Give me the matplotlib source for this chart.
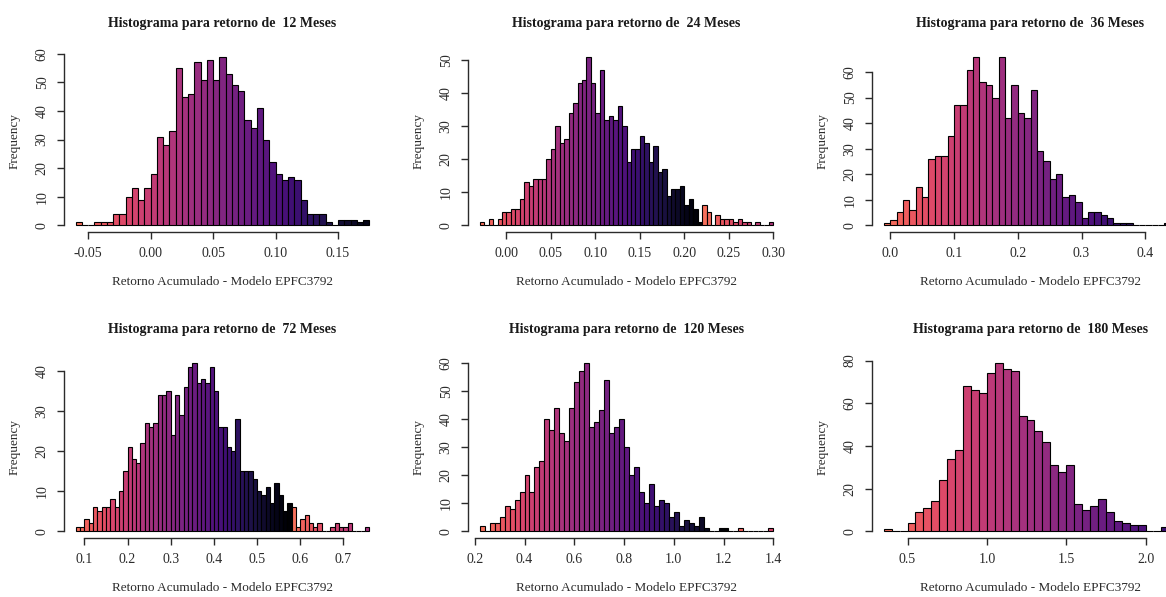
import numpy as np
import matplotlib
matplotlib.use("Agg")
import matplotlib.pyplot as plt

plt.rcParams['font.family'] = ['Liberation Serif', 'DejaVu Serif']

# horizon (months) of each panel
meses = [12, 24, 36, 72, 120, 180]

# histogram breaks: first break and bin width
break_start = [-0.06, -0.03, -0.01, 0.08, 0.22, 0.35]
break_width = [0.005, 0.005, 0.01, 0.01, 0.02, 0.05]

# counts
counts_12 = [1, 0, 0, 1, 1, 1, 4, 4, 10, 13, 9, 13, 18, 31, 28, 33, 55, 45, 46, 57,
             51, 58, 51, 59, 53, 49, 47, 37, 34, 41, 30, 22, 18, 16, 17, 16, 9, 4, 4, 4,
             1, 0, 2, 2, 2, 1, 2]
counts_24 = [1, 0, 2, 0, 2, 4, 4, 5, 5, 8, 13, 12, 14, 14, 14, 20, 23, 30, 25, 26,
             34, 37, 43, 44, 51, 43, 34, 47, 32, 33, 32, 36, 30, 19, 23, 23, 27, 25, 19, 24,
             16, 17, 9, 11, 11, 12, 6, 8, 5, 1, 6, 4, 0, 3, 2, 2, 2, 1, 2, 1,
             1, 0, 1, 0, 0, 1]
counts_36 = [1, 2, 5, 10, 6, 15, 11, 26, 27, 27, 35, 47, 47, 61, 66, 56, 55, 50, 66, 42,
             55, 44, 42, 53, 29, 25, 18, 20, 11, 12, 9, 3, 5, 5, 4, 3, 1, 1, 1, 0,
             0, 0, 0, 0, 1, 1]
counts_72 = [1, 1, 3, 2, 6, 5, 6, 6, 8, 6, 10, 15, 21, 18, 17, 22, 27, 26, 27, 34,
             34, 35, 24, 34, 29, 36, 41, 42, 37, 38, 37, 41, 35, 26, 26, 21, 20, 28, 15, 15,
             15, 13, 10, 9, 11, 7, 12, 9, 5, 7, 6, 1, 3, 4, 2, 1, 2, 0, 0, 1,
             2, 1, 1, 2, 0, 0, 0, 1]
counts_120 = [2, 0, 3, 3, 5, 9, 8, 11, 14, 20, 14, 23, 25, 40, 36, 44, 35, 32, 44, 53,
              57, 60, 37, 39, 43, 54, 35, 37, 40, 30, 20, 23, 14, 10, 17, 9, 11, 10, 5, 7,
              2, 4, 3, 2, 5, 1, 0, 0, 1, 1, 0, 0, 1, 0, 0, 0, 0, 0, 1]
counts_180 = [1, 0, 0, 4, 9, 11, 14, 24, 34, 38, 68, 66, 65, 74, 79, 76, 75, 54, 52, 47,
              42, 31, 28, 31, 13, 10, 12, 15, 9, 5, 4, 3, 3, 0, 0, 2, 1]
all_counts = [counts_12, counts_24, counts_36, counts_72, counts_120, counts_180]

# axis ticks and labels as R drew them
x_ticks = [[-0.05, 0.0, 0.05, 0.10, 0.15],
           [0.0, 0.05, 0.10, 0.15, 0.20, 0.25, 0.30],
           [0.0, 0.1, 0.2, 0.3, 0.4],
           [0.1, 0.2, 0.3, 0.4, 0.5, 0.6, 0.7],
           [0.2, 0.4, 0.6, 0.8, 1.0, 1.2, 1.4],
           [0.5, 1.0, 1.5, 2.0]]
x_labels = [["-0.05", "0.00", "0.05", "0.10", "0.15"],
            ["0.00", "0.05", "0.10", "0.15", "0.20", "0.25", "0.30"],
            ["0.0", "0.1", "0.2", "0.3", "0.4"],
            ["0.1", "0.2", "0.3", "0.4", "0.5", "0.6", "0.7"],
            ["0.2", "0.4", "0.6", "0.8", "1.0", "1.2", "1.4"],
            ["0.5", "1.0", "1.5", "2.0"]]
y_ticks = [[0, 10, 20, 30, 40, 50, 60],
           [0, 10, 20, 30, 40, 50],
           [0, 10, 20, 30, 40, 50, 60],
           [0, 10, 20, 30, 40],
           [0, 10, 20, 30, 40, 50, 60],
           [0, 20, 40, 60, 80]]

# 50 colour palette, recycled like R does
pal = plt.get_cmap('magma')(np.linspace(0.7, 0.0, 50))

W, H = 1166, 597
fig = plt.figure(figsize=(W / 100, H / 100), dpi=100)

lefts = [64, 468, 872]
tops = [50, 356]
aw, ah = 317, 182
axcol = '#2b2b2b'

for k in range(6):
    row, col = divmod(k, 3)
    ax = fig.add_axes([lefts[col] / W, 1 - (tops[row] + ah) / H, aw / W, ah / H])
    cnt = np.array(all_counts[k])
    n = len(cnt)
    edges = break_start[k] + break_width[k] * np.arange(n + 1)
    cols = [pal[i % 50] for i in range(n)]
    ax.bar(edges[:-1], cnt, width=break_width[k], align='edge', color=cols,
           edgecolor='black', linewidth=0.8)

    lo, hi = edges[0], edges[-1]
    ax.set_xlim(lo - 0.04 * (hi - lo), hi + 0.04 * (hi - lo))
    ymax = cnt.max()
    ax.set_ylim(-0.04 * ymax, ymax * 1.04)

    for s in ['top', 'right']:
        ax.spines[s].set_visible(False)
    for s in ['left', 'bottom']:
        ax.spines[s].set_color(axcol)
        ax.spines[s].set_linewidth(1.0)
    ax.spines['bottom'].set_bounds(x_ticks[k][0], x_ticks[k][-1])
    ax.spines['left'].set_bounds(y_ticks[k][0], y_ticks[k][-1])

    ax.set_xticks(x_ticks[k])
    ax.set_xticklabels(x_labels[k])
    ax.set_yticks(y_ticks[k])
    ax.set_yticklabels([str(v) for v in y_ticks[k]], rotation=90, va='center')
    ax.tick_params(axis='both', length=5, width=1.0, color=axcol,
                   labelsize=10, labelcolor=axcol)
    ax.tick_params(axis='x', pad=6)
    ax.tick_params(axis='y', pad=6)

    ax.text(0.5, 1 + 27 / ah, 'Histograma para retorno de  %d Meses' % meses[k],
            transform=ax.transAxes, ha='center', va='center',
            fontsize=10, fontweight='bold', color='#1a1a1a')
    ax.text(0.5, -50 / ah, 'Retorno Acumulado - Modelo EPFC3792',
            transform=ax.transAxes, ha='center', va='center',
            fontsize=9.5, color=axcol)
    ax.text(-49 / aw, 0.5, 'Frequency', transform=ax.transAxes, rotation=90,
            ha='center', va='center', fontsize=9.5, color=axcol)

fig.savefig('out.png', dpi=100)
